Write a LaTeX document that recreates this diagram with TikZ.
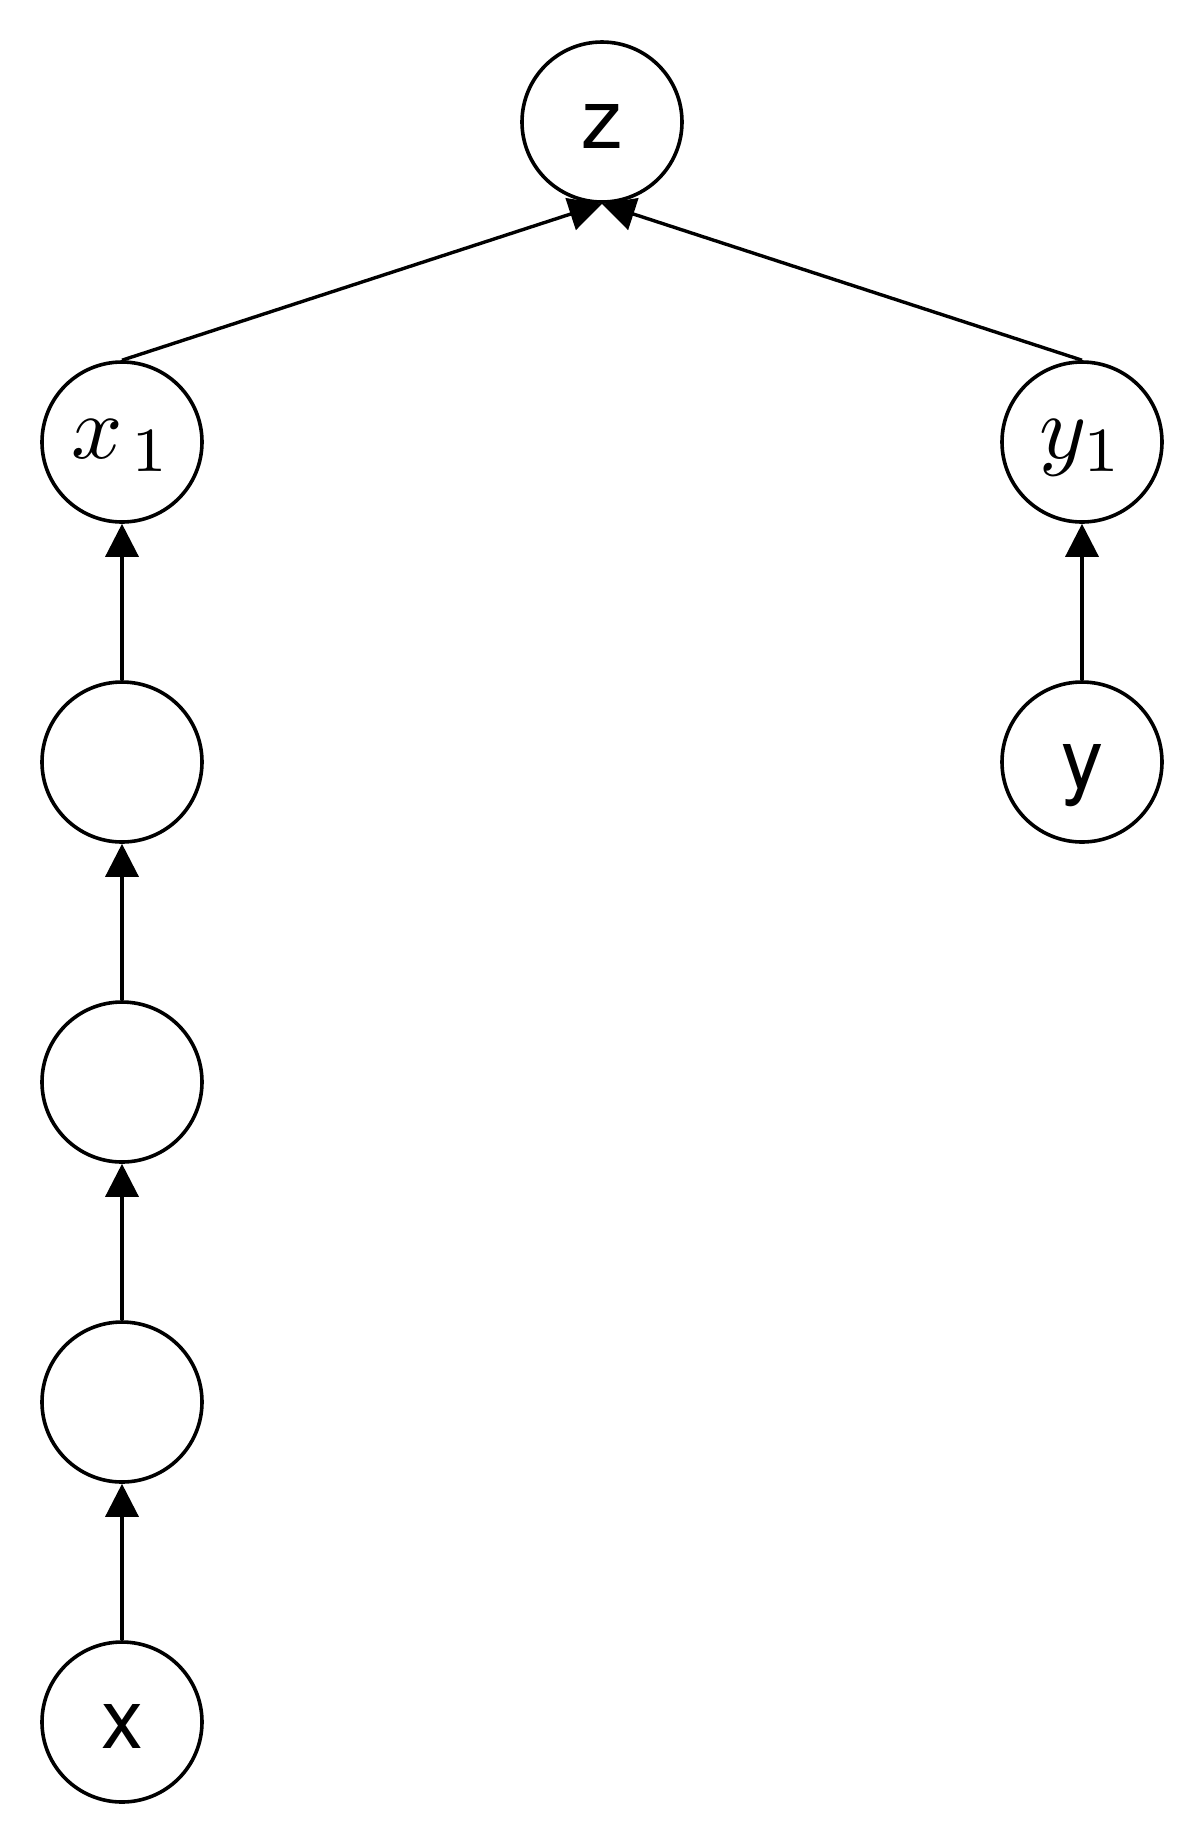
\documentclass[tikz,border=0pt]{standalone}
\usepackage{fontspec}
\usepackage{graphicx}
\setsansfont{TeX Gyre Heros}
\usetikzlibrary{arrows.meta}
\begin{document}
\begin{tikzpicture}[x=0.5pt,y=-0.5pt,
  nd/.style={circle,draw,line width=1.8pt,minimum size=80pt,inner sep=0pt,fill=white},
  sans/.style={nd,font=\sffamily\fontsize{42}{50}\selectfont,text height=26pt,text depth=0pt},
  mth/.style={nd,font=\fontsize{10}{12}\selectfont,text height=16pt,text depth=0pt},
  edge/.style={line width=1.7pt,-{Triangle[length=16.5pt,width=16.5pt]}}]
\useasboundingbox (0,0) rectangle (1204,1844);
\node[sans] (z) at (602,122) {z};
\node[mth] (x1) at (122,442) {\scalebox{4.5}{$x_{\mkern2mu 1}$}};
\node[mth] (y1) at (1082,442) {\scalebox{4.5}{$y_1$}};
\node[nd] (a) at (122,762) {};
\node[nd] (b) at (122,1082) {};
\node[nd] (c) at (122,1402) {};
\node[sans] (x) at (122,1722) {x};
\node[sans] (y) at (1082,762) {y};
\draw[edge] (x.north) -- (c.south);
\draw[edge] (c.north) -- (b.south);
\draw[edge] (b.north) -- (a.south);
\draw[edge] (a.north) -- (x1.south);
\draw[edge] (y.north) -- (y1.south);
\draw[edge] (x1.north) -- (z.south);
\draw[edge] (y1.north) -- (z.south);
\end{tikzpicture}
\end{document}
